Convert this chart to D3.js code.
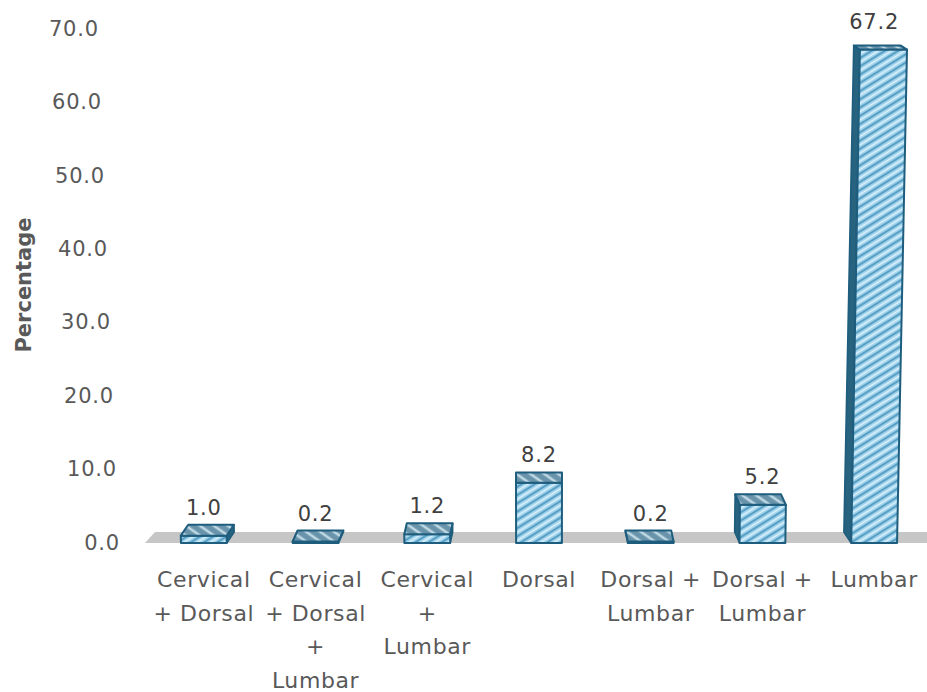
<!DOCTYPE html>
<html>
<head>
<meta charset="utf-8">
<script src="https://cdn.jsdelivr.net/npm/d3@7/dist/d3.min.js"></script>
<style>
  html, body { margin: 0; padding: 0; background: #ffffff; }
  svg { display: block; }
</style>
</head>
<body>
<script>
// Distribution of affected spinal regions (percentage of cases)
const categories = [
  "Cervical + Dorsal",
  "Cervical + Dorsal + Lumbar",
  "Cervical + Lumbar",
  "Dorsal",
  "Dorsal + Lumbar",
  "Dorsal + Lumbar",
  "Lumbar"
];
// Wrapped label lines for each category
const categoryLines = [
  ["Cervical", "+ Dorsal"],
  ["Cervical", "+ Dorsal", "+", "Lumbar"],
  ["Cervical", "+", "Lumbar"],
  ["Dorsal"],
  ["Dorsal +", "Lumbar"],
  ["Dorsal +", "Lumbar"],
  ["Lumbar"]
];
const values = [1.0, 0.2, 1.2, 8.2, 0.2, 5.2, 67.2];
const yTicks = [0, 10, 20, 30, 40, 50, 60, 70];
const yTitle = "Percentage";

const W = 927, H = 692;
const FONT = "'DejaVu Sans', 'Liberation Sans', Arial, sans-serif";

const svg = d3.select("body").append("svg")
  .attr("width", W).attr("height", H);

const x = d3.scaleBand().domain(d3.range(values.length)).range([148, 930]).padding(0);
const y = d3.scaleLinear().domain([0, 70]).range([543, 29]);

// Simple perspective: depth recedes toward a point above the chart centre,
// verticals lean slightly away from the centre line.
const VX = 540, VY = -233;
const KX = 0.022, KY = 0.0142, SK = 5.65e-5;

// Fill patterns
const defs = svg.append("defs");
const frontPat = defs.append("pattern")
  .attr("id", "frontHatch").attr("patternUnits", "userSpaceOnUse")
  .attr("width", 8).attr("height", 7)
  .attr("patternTransform", "rotate(-32)");
frontPat.append("rect").attr("width", 8).attr("height", 7).attr("fill", "#98d0ec");
frontPat.append("line").attr("x1", 0).attr("x2", 8).attr("y1", 1).attr("y2", 1)
  .attr("stroke", "#3a84ad").attr("stroke-width", 1.3);
frontPat.append("line").attr("x1", 0).attr("x2", 8).attr("y1", 4.5).attr("y2", 4.5)
  .attr("stroke", "#e2f3fb").attr("stroke-width", 1.6);

const topPat = defs.append("pattern")
  .attr("id", "topHatch").attr("patternUnits", "userSpaceOnUse")
  .attr("width", 9).attr("height", 8)
  .attr("patternTransform", "rotate(35)");
topPat.append("rect").attr("width", 9).attr("height", 8).attr("fill", "#6893aa");
topPat.append("line").attr("x1", 0).attr("x2", 9).attr("y1", 4).attr("y2", 4)
  .attr("stroke", "#c0d9e5").attr("stroke-width", 2.6);

// Floor slab
const x0 = x.range()[0];
const floorBackY = y(0) - KY * (y(0) - VY);
svg.append("polygon")
  .attr("points", [[x0 - 3, y(0)], [x0 + 7, floorBackY], [W + 20, floorBackY], [W + 20, y(0)]].map(p => p.join(",")).join(" "))
  .attr("fill", "#c6c6c6");

// Bars
const bw = x.bandwidth();
const barsG = svg.append("g");
const stroke = "#1e5d7d";
values.forEach((v, i) => {
  const xc = x(i) + bw / 2;
  const w = bw * 0.41;
  const xl = xc - w / 2, xr = xc + w / 2;
  const yb = y(0), yt = y(v);
  const h = yb - yt;
  const lean = px => px + (px - VX) * SK * h;
  const fl = [xl, yb], fr = [xr, yb];
  const tl = [lean(xl), yt], tr = [lean(xr), yt];
  const dxB = KX * (VX - xc);
  const dxT = dxB * (0.75 + 0.25 * (yt - VY) / (yb - VY));
  const dyT = -KY * (yt - VY), dyB = -KY * (yb - VY);
  const btl = [tl[0] + dxT, yt + dyT], btr = [tr[0] + dxT, yt + dyT];
  const bbl = [xl + dxB, yb + dyB], bbr = [xr + dxB, yb + dyB];
  const g = barsG.append("g");
  const pts = a => a.map(p => p.join(",")).join(" ");

  if (dxB > 0.5) {
    g.append("polygon").attr("points", pts([fr, tr, btr, bbr]))
      .attr("fill", "#27627f").attr("stroke", stroke).attr("stroke-width", 1.6).attr("stroke-linejoin", "round");
  } else if (dxB < -0.5) {
    g.append("polygon").attr("points", pts([fl, tl, btl, bbl]))
      .attr("fill", "#27627f").attr("stroke", stroke).attr("stroke-width", 1.6).attr("stroke-linejoin", "round");
  }
  g.append("polygon").attr("points", pts([fl, fr, tr, tl]))
    .attr("fill", "url(#frontHatch)").attr("stroke", stroke).attr("stroke-width", 2).attr("stroke-linejoin", "round");
  g.append("polygon").attr("points", pts([tl, tr, btr, btl]))
    .attr("fill", "url(#topHatch)").attr("stroke", stroke).attr("stroke-width", 2).attr("stroke-linejoin", "round");

  // Value label
  svg.append("text")
    .attr("x", xc).attr("y", yt - 21)
    .attr("text-anchor", "middle")
    .attr("font-family", FONT).attr("font-size", 21)
    .attr("letter-spacing", 0.8)
    .attr("fill", "#404040")
    .text(v.toFixed(1));
});

// Value axis (labels only, following the slanted back wall)
const yAxis = d3.axisLeft(y).tickValues(yTicks).tickFormat(d3.format(".1f"))
  .tickSize(0).tickPadding(0);
const ga = svg.append("g").call(yAxis)
  .attr("font-family", FONT).attr("font-size", 21);
ga.select(".domain").remove();
ga.selectAll(".tick")
  .attr("transform", d => `translate(${120 - (y(0) - y(d)) * 0.041},${y(d)})`);
ga.selectAll(".tick text").attr("fill", "#595959").attr("letter-spacing", 0.8);

// Axis title
svg.append("text")
  .attr("transform", "translate(31,285) rotate(-90)")
  .attr("text-anchor", "middle")
  .attr("font-family", FONT).attr("font-size", 21).attr("font-weight", "bold")
  .attr("fill", "#595959")
  .text(yTitle);

// Category labels
const catG = svg.append("g")
  .attr("font-family", FONT).attr("font-size", 22)
  .attr("fill", "#595959").attr("text-anchor", "middle");
categoryLines.forEach((lines, i) => {
  const t = catG.append("text")
    .attr("x", x(i) + bw / 2).attr("y", 587)
    .attr("letter-spacing", 0.6);
  lines.forEach((ln, j) => {
    t.append("tspan").attr("x", x(i) + bw / 2).attr("y", 587 + j * 33.7).text(ln);
  });
});
</script>
</body>
</html>
